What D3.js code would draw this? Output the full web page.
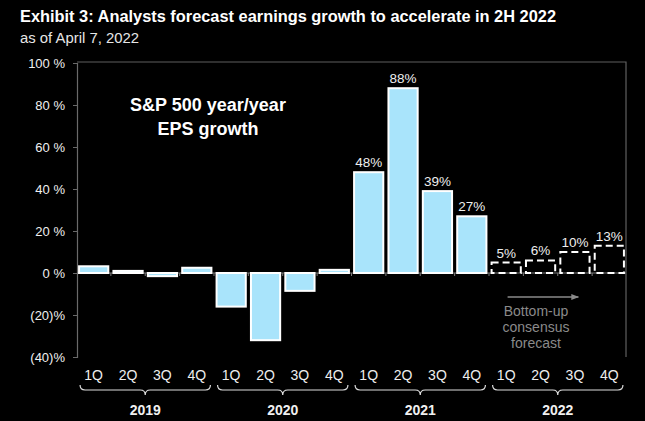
<!DOCTYPE html>
<html><head><meta charset="utf-8">
<script src="https://cdn.jsdelivr.net/npm/d3@7"></script>
<style>html,body{margin:0;padding:0;background:#000;}svg{display:block;}</style>
</head><body>
<svg id="chart" width="645" height="421"></svg>
<script>
const years = ["2019","2020","2021","2022"];
const quarters = ["1Q","2Q","3Q","4Q"];
const values = [3.2, 1.0, -1.5, 2.5, -16, -32, -8.5, 1.5, 48, 88, 39, 27, 5, 6, 10, 13];
const forecast = [false,false,false,false,false,false,false,false,false,false,false,false,true,true,true,true];
const showLabel = [false,false,false,false,false,false,false,false,true,true,true,true,true,true,true,true];
const yTicks = [-40,-20,0,20,40,60,80,100];

const cats = [];
years.forEach(y => quarters.forEach(q => cats.push(y + "-" + q)));
const data = cats.map((c, i) => ({key: c, q: c.split("-")[1], year: c.split("-")[0], v: values[i], f: forecast[i], lab: showLabel[i]}));

const svg = d3.select("#chart");
const font = "Arial, 'Liberation Sans', sans-serif";
const L = 77, R = 626, T = 62, B = 357;

const x = d3.scaleBand().domain(cats).range([L, R]).paddingInner(0.15).paddingOuter(0.06);
const y = d3.scaleLinear().domain([-40, 100]).range([B, T + 1]);

svg.append("rect").attr("width", 645).attr("height", 421).attr("fill", "#000");

// Title
svg.append("text").attr("x", 20).attr("y", 22).attr("fill", "#fff")
  .attr("font-family", font).attr("font-weight", "bold").attr("font-size", 17)
  .attr("textLength", 536).attr("lengthAdjust", "spacingAndGlyphs")
  .text("Exhibit 3: Analysts forecast earnings growth to accelerate in 2H 2022");
svg.append("text").attr("x", 20).attr("y", 43).attr("fill", "#e6e6e6")
  .attr("font-family", font).attr("font-size", 14)
  .attr("textLength", 119).attr("lengthAdjust", "spacingAndGlyphs")
  .text("as of April 7, 2022");

// Plot frame
svg.append("path").attr("d", `M${L},${T}H${R}V${B}`).attr("fill", "none").attr("stroke", "#5f5f5f").attr("stroke-width", 1.2);

// Y axis
const yAxis = d3.axisLeft(y).tickValues(yTicks).tickSize(4).tickPadding(8)
  .tickFormat(d => d < 0 ? `(${-d})%` : `${d} %`);
const ya = svg.append("g").attr("transform", `translate(${L},0)`).call(yAxis);
ya.select(".domain").attr("stroke", "#6a6a6a").attr("stroke-width", 1.2);
ya.selectAll(".tick line").attr("stroke", "#6a6a6a");
ya.selectAll(".tick text").attr("fill", "#f0f0f0").attr("font-family", font).attr("font-size", 13);

// Zero line with small ticks
svg.append("line").attr("x1", L).attr("x2", R).attr("y1", y(0)).attr("y2", y(0)).attr("stroke", "#7a7a7a").attr("stroke-width", 1.2);
const step = x.step();
svg.append("g").selectAll("line").data(d3.range(1, cats.length)).join("line")
  .attr("x1", i => x(cats[i]) - step * x.paddingInner() / 2).attr("x2", i => x(cats[i]) - step * x.paddingInner() / 2)
  .attr("y1", y(0)).attr("y2", y(0) + 3).attr("stroke", "#7a7a7a");

// Bars
svg.append("g").selectAll("rect").data(data).join("rect")
  .attr("x", d => x(d.key))
  .attr("width", x.bandwidth())
  .attr("y", d => y(Math.max(0, d.v)))
  .attr("height", d => Math.abs(y(d.v) - y(0)))
  .attr("fill", d => d.f ? "none" : "#a9e4fb")
  .attr("stroke", "#fff")
  .attr("stroke-width", 2)
  .attr("stroke-dasharray", d => d.f ? "7,4" : null);

// Data labels
svg.append("g").selectAll("text").data(data.filter(d => d.lab)).join("text")
  .attr("x", d => x(d.key) + x.bandwidth() / 2)
  .attr("y", d => y(d.v) - 5)
  .attr("text-anchor", "middle").attr("fill", "#eeeeee")
  .attr("font-family", font).attr("font-size", 13.5)
  .text(d => Math.round(d.v) + "%");

// Annotation text
const ann = svg.append("text").attr("text-anchor", "middle").attr("fill", "#fff")
  .attr("font-family", font).attr("font-weight", "bold").attr("font-size", 18);
ann.append("tspan").attr("x", 208).attr("y", 111).text("S&P 500 year/year");
ann.append("tspan").attr("x", 208).attr("y", 135).text("EPS growth");

// Forecast arrow & text
const fx0 = x(cats[12]) + 6, fx1 = x(cats[14]) + 8;
svg.append("defs").append("marker").attr("id", "arr").attr("viewBox", "0 0 10 10")
  .attr("refX", 9).attr("refY", 5).attr("markerWidth", 6).attr("markerHeight", 6).attr("orient", "auto")
  .append("path").attr("d", "M0,1L10,5L0,9Z").attr("fill", "#8a8a8a");
svg.append("line").attr("x1", fx0 + 10).attr("x2", fx1 + 10).attr("y1", 297).attr("y2", 297)
  .attr("stroke", "#8a8a8a").attr("stroke-width", 1.3).attr("marker-end", "url(#arr)");
const ft = svg.append("text").attr("text-anchor", "middle").attr("fill", "#8a8a8a")
  .attr("font-family", font).attr("font-size", 14);
["Bottom-up", "consensus", "forecast"].forEach((t, i) => ft.append("tspan").attr("x", 536).attr("y", 316 + i * 16).text(t));

// Quarter labels
svg.append("g").selectAll("text").data(data).join("text")
  .attr("x", d => x(d.key) + x.bandwidth() / 2).attr("y", 380)
  .attr("text-anchor", "middle").attr("fill", "#eeeeee")
  .attr("font-family", font).attr("font-size", 14)
  .text(d => d.q);

// Braces & year labels
function brace(x1, x2, yy, h) {
  const m = (x1 + x2) / 2, hh = h / 2;
  return `M${x1},${yy}Q${x1},${yy + hh} ${x1 + hh},${yy + hh}L${m - hh},${yy + hh}Q${m},${yy + hh} ${m},${yy + h}Q${m},${yy + hh} ${m + hh},${yy + hh}L${x2 - hh},${yy + hh}Q${x2},${yy + hh} ${x2},${yy}`;
}
years.forEach(yr => {
  const a = x(yr + "-1Q"), b = x(yr + "-4Q") + x.bandwidth();
  svg.append("path").attr("d", brace(a + 1, b - 1, 385, 10)).attr("fill", "none").attr("stroke", "#dddddd").attr("stroke-width", 1.2);
  svg.append("text").attr("x", (a + b) / 2).attr("y", 415).attr("text-anchor", "middle")
    .attr("fill", "#f0f0f0").attr("font-family", font).attr("font-weight", "bold").attr("font-size", 14)
    .text(yr);
});
</script>
</body></html>
